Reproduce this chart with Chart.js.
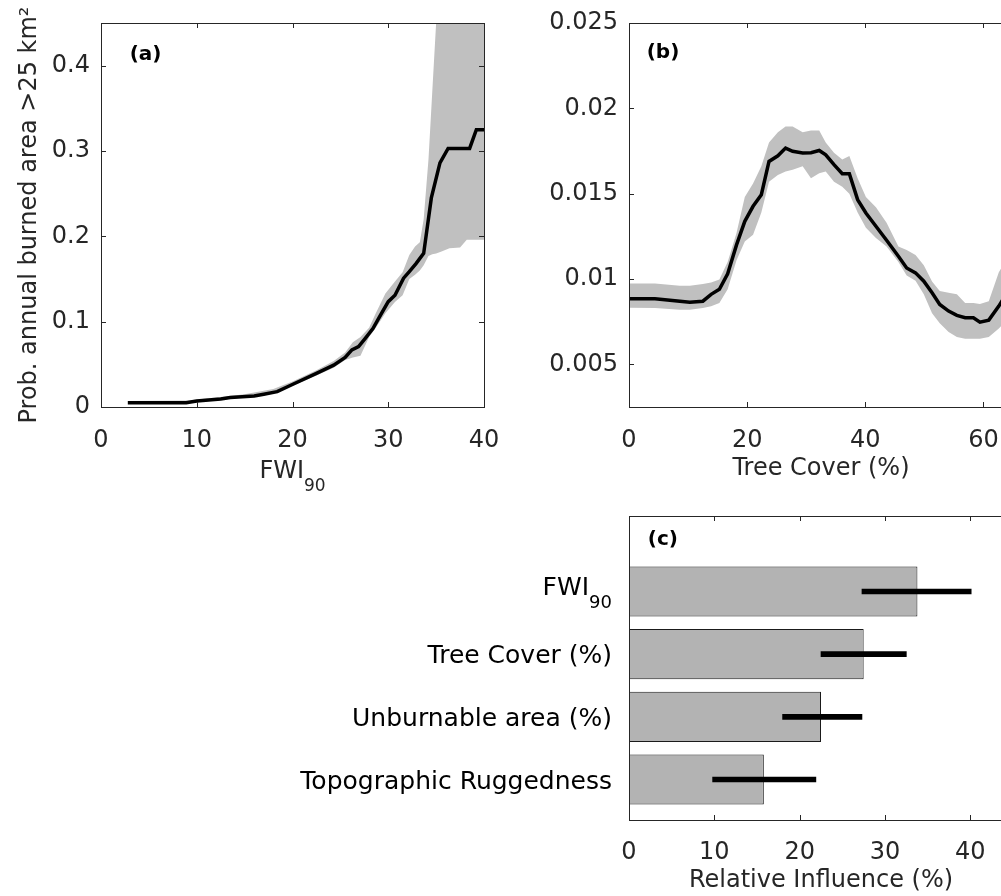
<!DOCTYPE html>
<html>
<head>
<meta charset="utf-8">
<title>Burned area partial dependence</title>
<script src="https://cdn.jsdelivr.net/npm/chart.js@4/dist/chart.umd.min.js"></script>
<style>
  html, body { margin: 0; padding: 0; background: #fff; overflow: hidden; }
  #page { position: relative; width: 1001px; height: 896px; overflow: hidden; }
  .panel { position: absolute; }
</style>
</head>
<body>
<div id="page">
  <div class="panel" style="left:0;top:0"><canvas id="chart-a" width="500" height="505"></canvas></div>
  <div class="panel" style="left:500px;top:0"><canvas id="chart-b" width="530" height="505"></canvas></div>
  <div class="panel" style="left:0;top:500px"><canvas id="chart-c" width="1030" height="396"></canvas></div>
</div>
<script>
// (a) probability vs FWI90
const fwiX = [2.8, 8.9, 10, 12.5, 13.5, 16, 17, 18.4, 20.1, 22.5, 24.3, 25.5, 26.2, 26.9, 27.6, 28.4, 29.1, 30, 30.7, 31.6, 32.2, 32.9, 33.7, 34.5, 35.4, 36.25, 38.5, 39.2, 40];
const fwiProb = [0.005, 0.005, 0.007, 0.0094, 0.011, 0.013, 0.015, 0.018, 0.027, 0.0395, 0.049, 0.058, 0.067, 0.0707, 0.0805, 0.092, 0.106, 0.1235, 0.131, 0.151, 0.1586, 0.168, 0.180, 0.245, 0.286, 0.303, 0.303, 0.325, 0.325];
const fwiBandX = [2.8, 9, 12, 15, 18, 20, 22.5, 24.3, 25.5, 26.3, 27.1, 28, 28.7, 29.7, 30.7, 31.5, 32.2, 32.8, 33.3, 33.7, 34.2, 34.6, 35.0, 35.5, 36.4, 37.5, 38.2, 40];
const fwiBandHigh = [0.007, 0.0075, 0.011, 0.015, 0.021, 0.030, 0.043, 0.054, 0.064, 0.076, 0.082, 0.093, 0.110, 0.133, 0.147, 0.158, 0.178, 0.188, 0.193, 0.22, 0.29, 0.37, 0.45, 0.6, 0.6, 0.6, 0.6, 0.6];
const fwiBandLow = [0.004, 0.0045, 0.008, 0.011, 0.016, 0.025, 0.037, 0.046, 0.055, 0.058, 0.060, 0.082, 0.093, 0.110, 0.123, 0.131, 0.150, 0.155, 0.160, 0.166, 0.177, 0.179, 0.180, 0.182, 0.186, 0.187, 0.196, 0.196];
const fwiTicksX = [0, 10, 20, 30, 40];
const fwiTicksY = [0, 0.1, 0.2, 0.3, 0.4];

// (b) probability vs tree cover
const treeX = [0, 4.4, 8.6, 10.3, 12.5, 13.9, 15.3, 16.7, 18.2, 19.6, 21, 22.4, 23.7, 25.2, 26.5, 27.7, 29.4, 30.8, 32.2, 33.3, 34.7, 36.1, 37.3, 38.7, 40.1, 41.8, 43.6, 45.6, 47, 48.5, 49.9, 51.3, 52.6, 54.1, 55.5, 56.9, 58.3, 59.4, 60.9, 62.6, 64];
const treeProb = [0.00884, 0.00884, 0.0087, 0.00864, 0.0087, 0.0091, 0.0094, 0.0103, 0.0120, 0.01338, 0.01426, 0.01494, 0.01689, 0.01722, 0.01767, 0.01748, 0.01738, 0.0174, 0.01753, 0.01728, 0.0167, 0.01617, 0.01617, 0.01465, 0.01387, 0.01309, 0.01227, 0.01133, 0.01065, 0.01036, 0.00987, 0.00919, 0.00851, 0.00812, 0.00787, 0.00773, 0.00773, 0.00747, 0.00759, 0.00841, 0.0092];
const treeHigh = [0.00974, 0.00974, 0.0096, 0.0096, 0.0097, 0.0098, 0.00997, 0.0110, 0.0127, 0.0148, 0.0156, 0.0166, 0.0180, 0.0186, 0.01893, 0.01893, 0.0186, 0.0187, 0.0187, 0.0180, 0.0174, 0.0170, 0.0172, 0.0159, 0.0148, 0.0142, 0.0133, 0.0119, 0.0117, 0.0114, 0.0108, 0.00986, 0.0093, 0.0092, 0.0091, 0.0086, 0.0086, 0.00853, 0.0087, 0.0104, 0.0112];
const treeLow = [0.00832, 0.0083, 0.0082, 0.0082, 0.0083, 0.0084, 0.0086, 0.0094, 0.0111, 0.0122, 0.0126, 0.0139, 0.0157, 0.0161, 0.0163, 0.0164, 0.0166, 0.0159, 0.0162, 0.0163, 0.0157, 0.0154, 0.0150, 0.0139, 0.0130, 0.0124, 0.0119, 0.0110, 0.0102, 0.0099, 0.0091, 0.0080, 0.0074, 0.0069, 0.0066, 0.0065, 0.0065, 0.0065, 0.0066, 0.0071, 0.0076];
const treeTicksX = [0, 20, 40, 60];
const treeTicksY = [0.005, 0.01, 0.015, 0.02, 0.025];

// (c) relative influence, top to bottom
const predictors = ["FWI_90", "Tree Cover (%)", "Unburnable area (%)", "Topographic Ruggedness"];
const influence = [33.8, 27.5, 22.5, 15.8];
const influenceLow = [27.3, 22.5, 18.0, 9.8];
const influenceHigh = [40.1, 32.5, 27.3, 21.9];
const influenceTicks = [0, 10, 20, 30, 40];

const AXIS = "#262626";
const BAND = "#c0c0c0";
const FONT = "'DejaVu Sans', sans-serif";

Chart.defaults.font.family = FONT;
Chart.defaults.font.size = 24;
Chart.defaults.color = AXIS;
Chart.defaults.animation = false;

const pts = (xs, ys) => xs.map((x, i) => ({ x: x, y: ys[i] }));
const fixTicks = values => scale => { scale.ticks = values.map(v => ({ value: v })); };
// fixed axis band, no extra room for overhanging labels
const fixSize = (prop, size) => s => {
    s[prop] = size;
    s.paddingLeft = s.paddingRight = s.paddingTop = s.paddingBottom = 0;
};

// text with an optional subscript after "_"
function drawRich(ctx, text, x, y, align, size) {
    const [main, sub] = text.split("_");
    const subSize = Math.round(size * 0.72);
    ctx.font = `${size}px ${FONT}`;
    const w1 = ctx.measureText(main).width;
    let w2 = 0;
    if (sub) {
        ctx.font = `${subSize}px ${FONT}`;
        w2 = ctx.measureText(sub).width;
    }
    let left = x;
    if (align === "right") left = x - w1 - w2;
    if (align === "center") left = x - (w1 + w2) / 2;
    ctx.textAlign = "left";
    ctx.textBaseline = "alphabetic";
    ctx.font = `${size}px ${FONT}`;
    ctx.fillText(main, left, y);
    if (sub) {
        ctx.font = `${subSize}px ${FONT}`;
        ctx.fillText(sub, left + w1, y + 13);
    }
}

// box, inward ticks, panel tag and rich labels
const frame = {
    id: "frame",
    afterDraw(chart, args, opts) {
        const { ctx, chartArea: a, scales: { x, y } } = chart;
        ctx.save();
        ctx.strokeStyle = AXIS;
        ctx.lineWidth = 1;
        ctx.strokeRect(Math.round(a.left) + 0.5, Math.round(a.top) + 0.5, Math.round(a.width), Math.round(a.height));
        ctx.beginPath();
        x.ticks.forEach(t => {
            const px = Math.round(x.getPixelForValue(t.value)) + 0.5;
            ctx.moveTo(px, a.bottom); ctx.lineTo(px, a.bottom - 5);
            ctx.moveTo(px, a.top); ctx.lineTo(px, a.top + 5);
        });
        if (opts.yTicks) {
            y.ticks.forEach(t => {
                const py = Math.round(y.getPixelForValue(t.value)) + 0.5;
                ctx.moveTo(a.left, py); ctx.lineTo(a.left + 5, py);
                ctx.moveTo(a.right, py); ctx.lineTo(a.right - 5, py);
            });
        }
        ctx.stroke();

        ctx.fillStyle = "#000";
        ctx.font = `bold 20px ${FONT}`;
        ctx.textAlign = "left";
        ctx.textBaseline = "middle";
        ctx.fillText(opts.tag, x.getPixelForValue(opts.tagAt[0]), y.getPixelForValue(opts.tagAt[1]));

        if (opts.xTitle) {
            ctx.fillStyle = AXIS;
            drawRich(ctx, opts.xTitle, (a.left + a.right) / 2, a.bottom + 71, "center", 24);
        }
        if (opts.categories) {
            ctx.fillStyle = "#000";
            opts.categories.forEach((label, i) => {
                const py = y.getPixelForValue(opts.categories.length - i);
                const base = label.includes("_") ? py + 3.5 : py + 9;
                drawRich(ctx, label, a.left - 17, base, "right", 25);
            });
        }
        ctx.restore();
    }
};

const noGrid = { display: false, drawTicks: false };

function lineScales(xr, yr, xTicks, yTicks, yWidth, yTitle, xTitle) {
    return {
        x: {
            type: "linear", min: xr[0], max: xr[1],
            afterBuildTicks: fixTicks(xTicks),
            afterFit: fixSize("height", 98),
            grid: noGrid, border: { display: false },
            ticks: { padding: 19, maxRotation: 0, autoSkip: false, callback: v => String(v) },
            title: { display: !!xTitle, text: xTitle, padding: { top: 0, bottom: 22 } }
        },
        y: {
            type: "linear", min: yr[0], max: yr[1],
            afterBuildTicks: fixTicks(yTicks),
            afterFit: fixSize("width", yWidth),
            grid: noGrid, border: { display: false },
            ticks: { padding: 11, autoSkip: false, callback: v => String(v) },
            title: { display: !!yTitle, text: yTitle, padding: { top: 15, bottom: 0 } }
        }
    };
}

function bandSets(xs, line, bx, hi, lo) {
    return [
        { data: pts(xs, line), borderColor: "#000", borderWidth: 3.5, pointRadius: 0, fill: false },
        { data: pts(bx, hi), borderWidth: 0, pointRadius: 0, fill: "+1", backgroundColor: BAND },
        { data: pts(bx, lo), borderWidth: 0, pointRadius: 0, fill: false }
    ];
}

const quiet = { legend: { display: false }, tooltip: { enabled: false } };

new Chart(document.getElementById("chart-a"), {
    type: "line",
    data: { datasets: bandSets(fwiX, fwiProb, fwiBandX, fwiBandHigh, fwiBandLow) },
    options: {
        responsive: false, events: [],
        layout: { padding: { top: 23, right: 16, left: 0, bottom: 0 } },
        plugins: { ...quiet, frame: { tag: "(a)", tagAt: [3, 0.4125], yTicks: true, xTitle: "FWI_90" } },
        scales: lineScales([0, 40], [0, 0.45], fwiTicksX, fwiTicksY, 101, "Prob. annual burned area >25 km²", "")
    },
    plugins: [frame]
});

new Chart(document.getElementById("chart-b"), {
    type: "line",
    data: { datasets: bandSets(treeX, treeProb, treeX, treeHigh, treeLow) },
    options: {
        responsive: false, events: [],
        layout: { padding: { top: 23, right: 17, left: 0, bottom: 0 } },
        plugins: { ...quiet, frame: { tag: "(b)", tagAt: [3, 0.02325], yTicks: true } },
        scales: lineScales([0, 65], [0.0025, 0.025], treeTicksX, treeTicksY, 129, "", "Tree Cover (%)")
    },
    plugins: [frame]
});

new Chart(document.getElementById("chart-c"), {
    type: "bar",
    data: {
        datasets: [
            {
                data: predictors.map((p, i) => ({ x: [influenceLow[i], influenceHigh[i]], y: predictors.length - i })),
                backgroundColor: "#000", borderWidth: 0, barThickness: 5, grouped: false
            },
            {
                data: predictors.map((p, i) => ({ x: influence[i], y: predictors.length - i })),
                backgroundColor: "#b3b3b3", borderColor: "#1a1a1a", borderWidth: 1, borderSkipped: false,
                grouped: false, categoryPercentage: 1, barPercentage: 0.8
            }
        ]
    },
    options: {
        indexAxis: "y",
        responsive: false, events: [],
        layout: { padding: { top: 16, right: 17, left: 0, bottom: 0 } },
        plugins: { ...quiet, frame: { tag: "(c)", tagAt: [2.2, 4.82], yTicks: false, categories: predictors } },
        scales: {
            x: {
                type: "linear", min: 0, max: 45,
                afterBuildTicks: fixTicks(influenceTicks),
                afterFit: fixSize("height", 76),
                grid: noGrid, border: { display: false },
                ticks: { padding: 18, maxRotation: 0, autoSkip: false, callback: v => String(v) },
                title: { display: true, text: "Relative Influence (%)", padding: { top: 0, bottom: 1 } }
            },
            y: {
                type: "linear", min: 0.354, max: 5.205, offset: false,
                afterBuildTicks: fixTicks(predictors.map((p, i) => i + 1)),
                afterFit: fixSize("width", 629),
                grid: noGrid, border: { display: false },
                ticks: { display: false }
            }
        }
    },
    plugins: [frame]
});
</script>
</body>
</html>
